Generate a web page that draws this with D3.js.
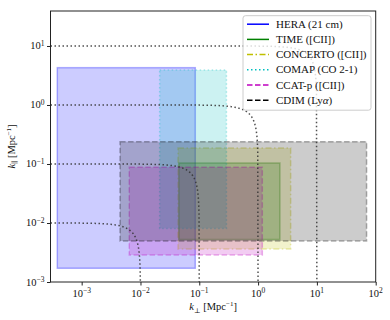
<!DOCTYPE html>
<meta charset="utf-8">
<style>
body { margin: 0; background: #fff; }
text { font-family: "Liberation Serif", "DejaVu Serif", serif; fill: #111; }
.axis path, .axis line { stroke: #222; }
</style>
<body>
<script src="https://cdn.jsdelivr.net/npm/d3@7"></script>
<script>
// survey boxes in (k_perp, k_par)
var surveys  = ["HERA (21 cm)", "TIME ([CII])", "CONCERTO ([CII])", "COMAP (CO 2-1)", "CCAT-p ([CII])", "CDIM (Ly\u03b1)"];
var kperpMin = [3.85e-4, 0.045, 0.0435, 0.0212, 6.45e-3, 4.5e-3];
var kperpMax = [0.0855, 2.35, 3.58, 0.29, 1.18, 70];
var kparMin  = [1.71e-3, 5.25e-3, 3.63e-3, 8.1e-3, 2.87e-3, 4.96e-3];
var kparMax  = [4.29, 0.104, 0.187, 3.92, 0.088, 0.239];
var colors   = ["#0000ff", "#008000", "#bfbf00", "#00bfbf", "#bf00bf", "#000000"];
var dashes   = [null, null, "6,2.5,1.5,2.5", "1.5,2.5", "5.5,2.5", "5.5,2.5"];

// |k| = const reference circles
var kTotal = [0.01, 0.1, 1, 10];

var xTicks = [-3, -2, -1, 0, 1, 2];
var yTicks = [-3, -2, -1, 0, 1];

var margin = {top: 11, right: 14.3, bottom: 38, left: 50.5},
    W = 390, H = 320,
    width = W - margin.left - margin.right,
    height = H - margin.top - margin.bottom;

var xmin = Math.pow(10, -3.53), xmax = 100;
var ymin = 1e-3, ymax = Math.pow(10, 1.593);

var x = d3.scaleLog().domain([xmin, xmax]).range([0, width]);
var y = d3.scaleLog().domain([ymin, ymax]).range([height, 0]);

var svg = d3.select("body").append("svg")
    .attr("width", W).attr("height", H)
  .append("g")
    .attr("transform", "translate(" + margin.left + "," + margin.top + ")");

svg.append("clipPath").attr("id", "clip")
  .append("rect").attr("width", width).attr("height", height);

var plot = svg.append("g").attr("clip-path", "url(#clip)");

// boxes
plot.selectAll("rect.box")
    .data(surveys)
  .enter().append("rect")
    .attr("class", "box")
    .attr("x", function(d, i) { return x(kperpMin[i]); })
    .attr("y", function(d, i) { return y(kparMax[i]); })
    .attr("width", function(d, i) { return x(kperpMax[i]) - x(kperpMin[i]); })
    .attr("height", function(d, i) { return y(kparMin[i]) - y(kparMax[i]); })
    .style("fill", function(d, i) { return colors[i]; })
    .style("fill-opacity", 0.2)
    .style("stroke", function(d, i) { return colors[i]; })
    .style("stroke-opacity", 0.3)
    .style("stroke-width", 1.5)
    .style("stroke-dasharray", function(d, i) { return dashes[i]; });

// circles of constant k
var circle = d3.line()
    .x(function(d) { return x(d[0]); })
    .y(function(d) { return y(d[1]); });

kTotal.forEach(function(k) {
  var pts = [];
  for (var j = 0; j <= 600; j++) {
    var kp = xmin * Math.pow(k / xmin, j / 600);
    var kl = Math.sqrt(Math.max(k * k - kp * kp, 0));
    pts.push([kp, Math.max(kl, ymin * 0.5)]);
  }
  plot.append("path")
      .attr("d", circle(pts))
      .style("fill", "none")
      .style("stroke", "#333")
      .style("stroke-opacity", 0.85)
      .style("stroke-width", 1.5)
      .style("stroke-dasharray", "1.5,2.5");
});

// minor tick values
function minors(lo, hi) {
  var out = [];
  for (var e = lo; e <= hi; e++)
    for (var m = 2; m <= 9; m++) out.push(m * Math.pow(10, e));
  return out;
}

function powLabel(sel, e) {
  sel.text("10");
  sel.append("tspan").attr("dy", "-0.45em").style("font-size", "7.5px").text(e < 0 ? "\u2212" + (-e) : e);
}

// axes
var gx = svg.append("g").attr("class", "axis")
    .attr("transform", "translate(0," + height + ")");
gx.call(d3.axisBottom(x).tickValues(minors(-4, 1).filter(function(v) { return v >= xmin && v <= xmax; }))
    .tickSize(2).tickFormat(""));
gx.call(d3.axisBottom(x).tickValues(xTicks.map(function(e) { return Math.pow(10, e); }))
    .tickSize(3.5).tickFormat(""));
gx.select(".domain").remove();
xTicks.forEach(function(e) {
  gx.append("text")
      .attr("x", x(Math.pow(10, e)))
      .attr("y", 14.5)
      .attr("text-anchor", "middle")
      .style("font-size", "10.5px")
      .call(powLabel, e);
});

var gy = svg.append("g").attr("class", "axis");
gy.call(d3.axisLeft(y).tickValues(minors(-3, 1).filter(function(v) { return v <= ymax; }))
    .tickSize(2).tickFormat(""));
gy.call(d3.axisLeft(y).tickValues(yTicks.map(function(e) { return Math.pow(10, e); }))
    .tickSize(3.5).tickFormat(""));
gy.select(".domain").remove();
yTicks.forEach(function(e) {
  gy.append("text")
      .attr("x", -6)
      .attr("y", y(Math.pow(10, e)) + 3.5)
      .attr("text-anchor", "end")
      .style("font-size", "10.5px")
      .call(powLabel, e);
});

// frame
svg.append("rect")
    .attr("width", width).attr("height", height)
    .style("fill", "none").style("stroke", "#222").style("stroke-width", 1);

// axis labels
var xl = svg.append("text")
    .attr("x", width / 2).attr("y", height + 28)
    .attr("text-anchor", "middle").style("font-size", "10.5px");
xl.append("tspan").style("font-style", "italic").text("k");
xl.append("tspan").attr("dy", 2.5).style("font-size", "7px").text("\u22a5");
xl.append("tspan").attr("dy", -2.5).text(" [Mpc");
xl.append("tspan").attr("dy", -4).style("font-size", "7px").text("\u22121");
xl.append("tspan").attr("dy", 4).text("]");

var yl = svg.append("text")
    .attr("transform", "translate(" + (-36) + "," + (height / 2) + ") rotate(-90)")
    .attr("text-anchor", "middle").style("font-size", "10.5px");
yl.append("tspan").style("font-style", "italic").text("k");
yl.append("tspan").attr("dy", 2.5).style("font-size", "7px").text("\u2225");
yl.append("tspan").attr("dy", -2.5).text(" [Mpc");
yl.append("tspan").attr("dy", -4).style("font-size", "7px").text("\u22121");
yl.append("tspan").attr("dy", 4).text("]");

// legend
var lg = svg.append("g")
    .attr("transform", "translate(" + (243 - margin.left) + "," + (15.7 - margin.top) + ")");
lg.append("rect")
    .attr("width", 128).attr("height", 94.5)
    .attr("rx", 2.5)
    .style("fill", "#fff").style("fill-opacity", 0.8)
    .style("stroke", "#ccc").style("stroke-width", 1);

var row = lg.selectAll("g.row")
    .data(surveys)
  .enter().append("g")
    .attr("class", "row")
    .attr("transform", function(d, i) { return "translate(0," + (8.5 + i * 15.2) + ")"; });
row.append("line")
    .attr("x1", 4).attr("x2", 26)
    .style("stroke", function(d, i) { return colors[i]; })
    .style("stroke-width", 1.5)
    .style("stroke-dasharray", function(d, i) { return dashes[i]; });
row.append("text")
    .attr("x", 33).attr("y", 3.5)
    .style("font-size", "11px")
    .each(function(d) {
      var t = d3.select(this);
      if (d.indexOf("\u03b1") >= 0) {
        t.append("tspan").text(d.replace("\u03b1)", ""));
        t.append("tspan").style("font-style", "italic").text("\u03b1");
        t.append("tspan").text(")");
      } else {
        t.text(d);
      }
    });
</script>
</body>
